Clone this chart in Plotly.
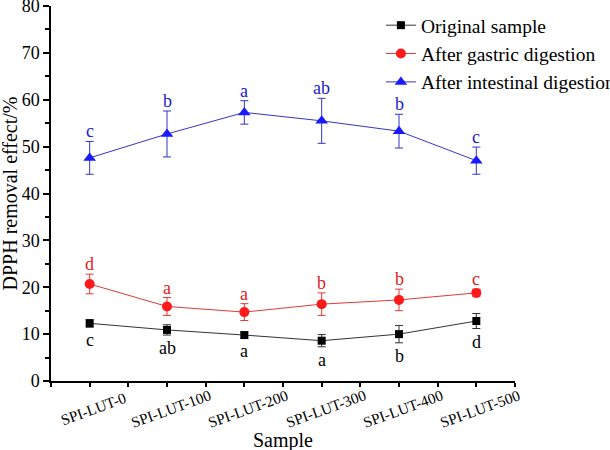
import plotly.graph_objects as go

samples = ["SPI-LUT-0", "SPI-LUT-100", "SPI-LUT-200", "SPI-LUT-300", "SPI-LUT-400", "SPI-LUT-500"]

original = [12.3, 10.9, 9.8, 8.6, 10.0, 12.8]
original_err = [0.8, 1.1, 0.6, 1.3, 1.85, 1.6]
original_letters = ["c", "ab", "a", "a", "b", "d"]

gastric = [20.7, 15.9, 14.7, 16.4, 17.3, 18.8]
gastric_err = [2.1, 1.9, 1.8, 2.4, 2.3, 0.8]
gastric_letters = ["d", "a", "a", "b", "b", "c"]

intestinal = [47.6, 52.7, 57.3, 55.5, 53.3, 47.0]
intestinal_err = [3.5, 4.9, 2.5, 4.8, 3.6, 2.9]
intestinal_letters = ["c", "b", "a", "ab", "b", "c"]

FONT = "Liberation Serif, Times New Roman, serif"
xs = list(range(len(samples)))

fig = go.Figure()
series = [
    ("Original sample", original, original_err, "black", "square", 8, "#333333"),
    ("After gastric digestion", gastric, gastric_err, "#ff1a1a", "circle", 10, "#e03a3a"),
    ("After intestinal digestion", intestinal, intestinal_err, "#1a1aff", "triangle-up", 11, "#3535c8"),
]
for name, vals, errs, col, sym, size, lcol in series:
    fig.add_trace(go.Scatter(
        x=xs, y=vals, name=name, mode="lines+markers",
        line=dict(color=lcol, width=1),
        marker=dict(symbol=sym, size=size, color=col),
        error_y=dict(type="data", array=errs, visible=True, color=lcol, thickness=1, width=4),
    ))

# significance letters
for vals, errs, letters, col, above in [
    (intestinal, intestinal_err, intestinal_letters, "#1a1acc", True),
    (gastric, gastric_err, gastric_letters, "#e02020", True),
    (original, original_err, original_letters, "black", False),
]:
    for x, v, e, t in zip(xs, vals, errs, letters):
        if above:
            fig.add_annotation(x=x, y=v + e, text=t, showarrow=False, yanchor="bottom",
                               yshift=-2, font=dict(family=FONT, size=18, color=col))
        else:
            fig.add_annotation(x=x, y=v - e, text=t, showarrow=False, yanchor="top",
                               yshift=-1, font=dict(family=FONT, size=18, color=col))

# x tick labels (rotated, centred on the tick)
for x, s in zip(xs, samples):
    fig.add_annotation(x=x, xref="x", xshift=4, y=0, yref="paper", yshift=-27, text=s,
                       textangle=-20, showarrow=False, xanchor="center", yanchor="middle",
                       font=dict(family=FONT, size=15.3, color="black"))

# axis titles
fig.add_annotation(x=0.5, xref="paper", y=0, yref="paper", yshift=-59, text="Sample",
                   showarrow=False, xanchor="center", yanchor="middle",
                   font=dict(family=FONT, size=20, color="black"))
fig.add_annotation(x=0, xref="paper", xshift=-42, y=0.5, yref="paper", text="DPPH removal effect/%",
                   textangle=-90, showarrow=False, xanchor="center", yanchor="middle",
                   font=dict(family=FONT, size=20, color="black"))

fig.update_layout(
    width=610, height=450,
    margin=dict(l=51, r=95, t=6, b=69, autoexpand=False),
    paper_bgcolor="white", plot_bgcolor="white",
    font=dict(family=FONT, size=14, color="black"),
    showlegend=True,
    legend=dict(x=0.711, y=1.0, xanchor="left", yanchor="top",
                font=dict(family=FONT, size=19.5, color="black"),
                bgcolor="rgba(0,0,0,0)", tracegroupgap=0),
    xaxis=dict(
        range=[-0.5, 5.5], tickmode="array", tickvals=xs, ticktext=[""] * len(xs),
        showticklabels=False, automargin=False,
        showgrid=False, zeroline=False,
        showline=True, linecolor="black", linewidth=1.5,
        ticks="outside", ticklen=6, tickwidth=1.5, tickcolor="black",
        minor=dict(tickmode="linear", tick0=-0.5, dtick=0.5, ticks="outside", ticklen=4,
                   tickcolor="black", tickwidth=1.5, showgrid=False),
    ),
    yaxis=dict(
        range=[0, 80], tickmode="linear", tick0=0, dtick=10, automargin=False,
        showgrid=False, zeroline=False,
        showline=True, linecolor="black", linewidth=1.5,
        ticks="outside", ticklen=6, tickwidth=1.5, tickcolor="black",
        minor=dict(tickmode="linear", tick0=0, dtick=5, ticks="outside", ticklen=4,
                   tickcolor="black", tickwidth=1.5, showgrid=False),
        tickfont=dict(family=FONT, size=18),
        ticklabeloverflow="allow",
    ),
)

fig.write_html("out.html", config={"displayModeBar": False},
               post_script="document.body.style.margin='0';document.body.style.padding='0';")
